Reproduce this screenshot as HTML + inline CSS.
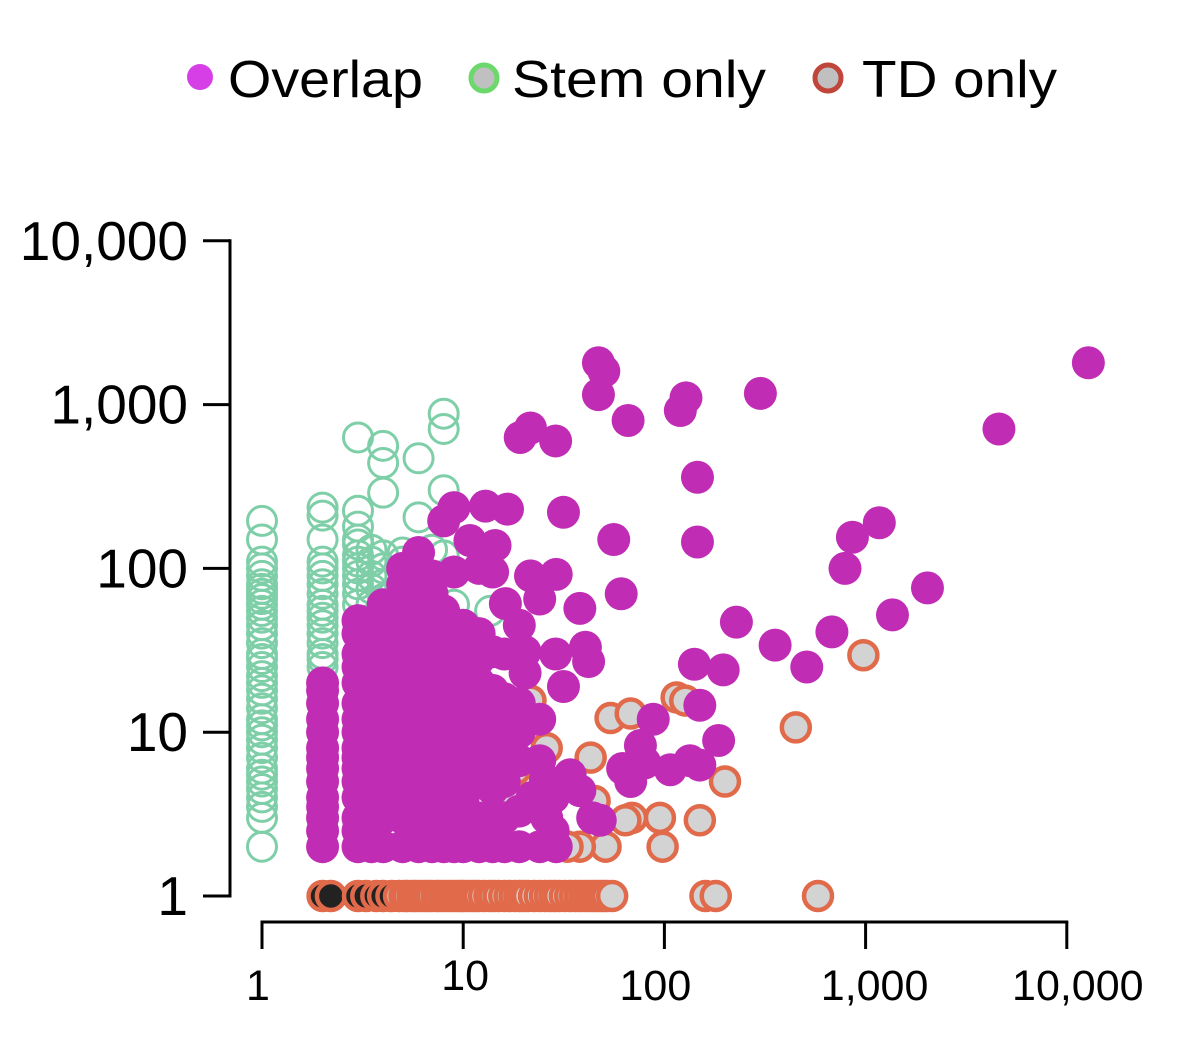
<!DOCTYPE html>
<html><head><meta charset="utf-8"><style>
html,body{margin:0;padding:0;background:#fff;}
svg{display:block;font-family:"Liberation Sans",Arial,sans-serif;}
</style></head><body>
<svg id="chart" width="1200" height="1043" viewBox="0 0 1200 1043" xmlns="http://www.w3.org/2000/svg">
<g>
  <g>
    <circle cx="200" cy="77" r="13" fill="#d63ee6"/>
    <text x="228" y="97" font-size="52" textLength="195" lengthAdjust="spacingAndGlyphs" fill="#000">Overlap</text>
  </g>
  <g>
    <circle cx="484" cy="78" r="13" fill="#c0c0c0" stroke="#6cd86c" stroke-width="5"/>
    <text x="512" y="97" font-size="52" textLength="254" lengthAdjust="spacingAndGlyphs" fill="#000">Stem only</text>
  </g>
  <g>
    <circle cx="828" cy="78" r="13" fill="#c0c0c0" stroke="#c0453a" stroke-width="5"/>
    <text x="862" y="97" font-size="52" textLength="195" lengthAdjust="spacingAndGlyphs" fill="#000">TD only</text>
  </g>
</g>
<g id="marks"></g>
<g id="axes"></g>
</svg>
<script>
const xTicks = [1, 10, 100, 1000, 10000];
const xTickLabels = ["1", "10", "100", "1,000", "10,000"];
const yTicks = [1, 10, 100, 1000, 10000];
const yTickLabels = ["1", "10", "100", "1,000", "10,000"];

const stemPoints = [
 [1,2],[1,3],[1,3.5],[1,4],[1,4.5],[1,5],[1,5.5],[1,6],[1,7],[1,8],[1,9],[1,10],[1,11],[1,12],[1,14],[1,16],[1,18],[1,20],[1,22],[1,25],[1,28],[1,30],[1,35],[1,40],[1,45],[1,50],[1,55],[1,60],[1,65],[1,70],[1,75],[1,80],[1,90],[1,100],[1,110],[1,150],[1,195],
 [2,25],[2,28],[2,30],[2,35],[2,40],[2,45],[2,50],[2,55],[2,60],[2,70],[2,80],[2,90],[2,100],[2,110],[2,150],[2,210],[2,235],
 [3,60],[3,70],[3,80],[3,90],[3,100],[3,110],[3,120],[3,140],[3,150],[3,180],[3,225],[3,630],
 [3.5,60],[3.5,75],[3.5,90],[3.5,110],[3.5,130],
 [4,65],[4,80],[4,100],[4,120],[4,290],[4,440],[4,560],
 [5,100],[5,110],[5,125],[6,205],[6,470],[6,90],
 [8,300],[8,710],[8,880],[8,120],[9,60],[11,36],[13.6,55],[7,130]
];
const overlapPoints = [
 [2,2],[2,2.5],[2,3],[2,3.5],[2,4],[2,5],[2,6],[2,7],[2,8],[2,10],[2,12],[2,15],[2,18],[2,20],
 [3,2],[3,2.5],[3,3],[3,4],[3,5],[3,6],[3,7],[3,8],[3,10],[3,12],[3,15],[3,20],[3,25],[3,30],[3,40],[3,48],
 [3.5,2],[3.5,3],[3.5,5],[3.5,8],[3.5,12],[3.5,20],[3.5,30],[3.5,45],
 [4,2],[4,3],[4,4],[4,5],[4,6],[4,8],[4,10],[4,12],[4,15],[4,20],[4,25],[4,30],[4,40],[4,50],[4,60],
 [5,2],[5,3],[5,4],[5,5],[5,6],[5,8],[5,10],[5,12],[5,15],[5,20],[5,25],[5,30],[5,40],[5,50],[5,65],[5,80],[5,100],
 [6,2],[6,3],[6,4],[6,5],[6,6],[6,8],[6,10],[6,12],[6,15],[6,20],[6,25],[6,30],[6,40],[6,50],[6,65],[6,80],[6,100],[6,125],
 [7,2],[7,3],[7,4],[7,5],[7,6],[7,8],[7,10],[7,12],[7,15],[7,20],[7,25],[7,30],[7,40],[7,50],[7,70],[7,90],
 [8,2],[8,3],[8,4],[8,5],[8,6],[8,8],[8,10],[8,13],[8,16],[8,20],[8,25],[8,30],[8,40],[8,55],[8,195],
 [9,2],[9,3],[9,4],[9,5],[9,7],[9,9],[9,12],[9,16],[9,20],[9,28],[9,40],[9,235],[9,95],
 [10,2],[10,3],[10,4],[10,6],[10,8],[10,11],[10,15],[10,20],[10,30],[10,45],[10.8,148],
 [12,2],[12,3],[12,5],[12,7],[12,10],[12,14],[12,20],[12,28],[12,40],[12.9,240],[12,100],
 [14,2],[14,3],[14,4.5],[14,6],[14,9],[14,13],[14,18],[14,31],[14.4,138],[14,95],
 [16,2],[16,3],[16,5],[16,8],[16,12],[16,16],[16.2,61],[16.6,230],[16,30],
 [19,2],[19,3.3],[19,6.7],[19,10],[19,15],[20.3,23],[20.3,31],[21.6,90],[19,45],
 [24,2],[24,6.7],[24,65],[25.6,5.1],[24,12],[22,4],[26,3],[28,2.5],
 [29,2],[29,92],[28.8,30],[31.5,19],[28,4],[34,5.5],[38,4.4],[40.5,33],[42,27],[38,57],[48,2.9],[44,3],
 [19.2,630],[21.6,720],[28.8,600],[31.5,220],[47,1800],[50,1600],[47,1150],[66,800],[128,1100],[120,920],[300,1170],
 [12800,1800],[4600,710],[146,360],[146,145],[56,150],[61,70],[228,47],[355,34],[510,25],[680,41],[860,155],[1170,190],
 [1360,52],[2030,76],[790,100],[141,26],[196,24],
 [88,12],[76,8.3],[68,5],[150,14.6],[186,8.9],[150,6.3],[107,5.9],[134,6.7],[62,6],[80,6.5]
];
const tdPoints = [
 [2,1],[2.2,1],[3,1],[3.3,1],[3.7,1],[4,1],[4.4,1],[4.8,1],[5.1,1],[5.3,1],[5.6,1],[5.8,1],[6.1,1],[6.4,1],[6.7,1],[7,1],[7.4,1],[7.7,1],[8.1,1],[8.5,1],[8.9,1],[9.3,1],[9.7,1],[10,1],[10.5,1],[11,1],[11.5,1],[12,1],[12.7,1],[13.5,1],[14.2,1],[15,1],[16,1],[17,1],[18,1],[19,1],[20,1],[21,1],[22.5,1],[24,1],[25.5,1],[27,1],[28.5,1],[30,1],[32,1],[34,1],[36,1],[38,1],[40,1],[42,1],[44,1],[46,1],[48,1],[50,1],[52,1],[55,1],
 [160,1],[180,1],[580,1],
 [975,29.5],[450,10.7],[54,12.2],[68,13],[115,16.3],[127,15.6],[200,5],[150,2.9],[95,3],[69,3],[64,2.9],[98,2],[51,2],[38,2],[43,7],[21.6,15.6],[18.2,5.9],[17,4.1],[45,3.8],[33,2],[26,8]
];

const X0 = 262, XD = 201.2, Y0 = 896, YD = 163.8;
function xScale(v){ return X0 + XD*Math.log10(v); }
function yScale(v){ return Y0 - YD*Math.log10(v); }
const NS = "http://www.w3.org/2000/svg";
const marks = document.getElementById('marks');
const axes = document.getElementById('axes');
function mk(tag, attrs, parent){
  const el = document.createElementNS(NS, tag);
  for (const k in attrs) el.setAttribute(k, attrs[k]);
  parent.appendChild(el);
  return el;
}
const gStem = mk('g', {}, marks);


stemPoints.forEach(p => {
  const c = mk('circle', {cx: xScale(p[0]), cy: yScale(p[1]), r: 14.5, fill: 'none', stroke: '#7ecfa8', 'stroke-width': 3}, gStem);
  
  
});
const gTd = mk('g', {}, marks);


tdPoints.forEach(p => {
  const dark = p[1] === 1 && p[0] <= 4.5;
  const c = mk('circle', {cx: xScale(p[0]), cy: yScale(p[1]), r: 14, fill: dark ? '#222' : '#d3d3d3', stroke: '#e06a4a', 'stroke-width': 4.5}, gTd);
  
  
});
const gOv = mk('g', {}, marks);


overlapPoints.forEach(p => {
  const c = mk('circle', {cx: xScale(p[0]), cy: yScale(p[1]), r: 16.5, fill: '#c02db4'}, gOv);
  
  
});

const xOffsets = [-4, 2, -9, 9, 11];
const yAxis = mk('line', {x1: 230, y1: yScale(10000)-1.5, x2: 230, y2: yScale(1)+1.5, stroke: '#000', 'stroke-width': 3}, axes);


yTicks.forEach((t, i) => {
  const y = yScale(t);
  const tk = mk('line', {x1: 203, y1: y, x2: 230, y2: y, stroke: '#000', 'stroke-width': 3}, axes);
  
  
  const lb = mk('text', {x: 188, y: y + 19, 'font-size': 55, 'text-anchor': 'end', fill: '#000'}, axes);
  lb.textContent = yTickLabels[i];
  
  
});
const xAxis = mk('line', {x1: xScale(1)-1.5, y1: 922, x2: xScale(10000)+1.5, y2: 922, stroke: '#000', 'stroke-width': 3}, axes);


xTicks.forEach((t, i) => {
  const x = xScale(t);
  const tk = mk('line', {x1: x, y1: 922, x2: x, y2: 949, stroke: '#000', 'stroke-width': 3}, axes);
  
  
  const lb = mk('text', {x: x + xOffsets[i], y: i === 1 ? 990 : 1000, 'font-size': 43, 'text-anchor': 'middle', fill: '#000'}, axes);
  lb.textContent = xTickLabels[i];
  
  
});
</script>
</body></html>
